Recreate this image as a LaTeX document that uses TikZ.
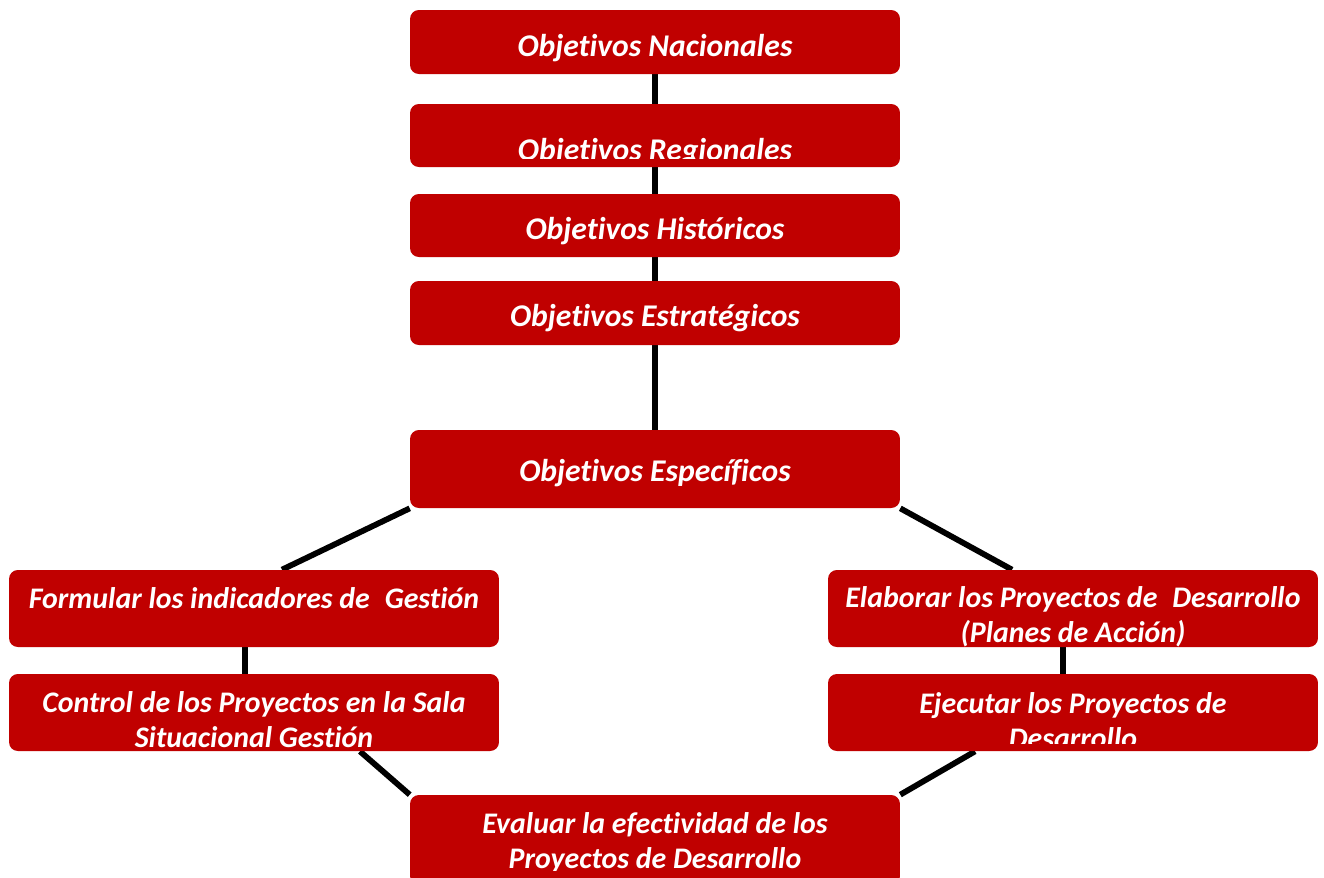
\documentclass[tikz,border=0pt]{standalone}
\usepackage{fontspec}
\setmainfont{Carlito}[Ligatures=NoCommon]
\usetikzlibrary{calc,backgrounds}
\definecolor{boxred}{HTML}{C00000}
\begin{document}
\begin{tikzpicture}[x=0.02cm,y=-0.02cm,
    box/.style={fill=boxred,rounded corners=5pt,minimum width=9.8cm,inner sep=0pt},
    lbl/.style={text=white,font=\bfseries\itshape\fontsize{17}{19.6}\selectfont,align=center,anchor=base,inner sep=0pt},
    obj/.style={lbl,font=\bfseries\itshape\fontsize{18}{19.6}\selectfont},
    link/.style={line width=3.3pt,black}]
        \useasboundingbox (0,0) rectangle (1324,877);
        % boxes
        \node[box,minimum height=1.28cm] (nac) at (655,42) {};
        \node[box,minimum height=1.26cm] (reg) at (655,135.5) {};
        \node[box,minimum height=1.26cm] (his) at (655,225.5) {};
        \node[box,minimum height=1.28cm] (est) at (655,313) {};
        \node[box,minimum height=1.56cm] (esp) at (655,469) {};
        \node[box,minimum height=1.54cm] (form) at (254,608.5) {};
        \node[box,minimum height=1.54cm] (ctrl) at (254,712.5) {};
        \node[box,minimum height=1.54cm] (elab) at (1073,608.5) {};
        \node[box,minimum height=1.54cm] (ejec) at (1073,712.5) {};
        \node[box,minimum height=1.8cm] (eval) at (655,840) {};
        % texts (base = last line)
        \node[obj] (nacT) at (655,56) {Objetivos Nacionales};
        \begin{scope}
            \clip (reg.north west) rectangle ($(reg.south east)+(0,-9)$);
            \node[obj] (regT) at (655,160) {Objetivos Regionales};
        \end{scope}
        \node[obj] (hisT) at (655,239) {Objetivos Históricos};
        \node[obj] (estT) at (655,326) {Objetivos Estratégicos};
        \node[obj] (espT) at (655,481) {Objetivos Específicos};
        \node[lbl] (formT) at (254,608) {Formular los indicadores de\hspace{0.5em}Gestión};
        \node[lbl] (ctrlT) at (254,747) {Control de los Proyectos en la Sala\\Situacional Gestión};
        \begin{scope}
            \clip (elab.north west) rectangle (elab.south east);
            \node[lbl] (elabT) at (1073,642) {Elaborar los Proyectos de\hspace{0.5em}Desarrollo\\(Planes de Acción)};
        \end{scope}
        \begin{scope}
            \clip (ejec.north west) rectangle ($(ejec.south east)+(0,-8)$);
            \node[lbl] (ejecT) at (1073,748) {Ejecutar los Proyectos de\\Desarrollo};
        \end{scope}
        \begin{scope}
            \clip (eval.north west) rectangle (900,870);
            \node[lbl] (evalT) at (655,868) {Evaluar la efectividad de los\\Proyectos de Desarrollo};
        \end{scope}
        % connectors
        \begin{pgfonlayer}{background}
            \draw[link] (nac) -- (esp);
            \draw[link] (esp.south west) -- ([xshift=0.56cm]form.north);
            \draw[link] (esp.south east) -- ([xshift=-1.22cm]elab.north);
            \draw[link] ([xshift=-0.18cm]form.south) -- ([xshift=-0.18cm]ctrl.north);
            \draw[link] ([xshift=-0.2cm]elab.south) -- ([xshift=-0.2cm]ejec.north);
            \draw[link] ([xshift=2.12cm]ctrl.south) -- (eval.north west);
            \draw[link] ([xshift=-1.96cm]ejec.south) -- (eval.north east);
        \end{pgfonlayer}
\end{tikzpicture}
\end{document}
